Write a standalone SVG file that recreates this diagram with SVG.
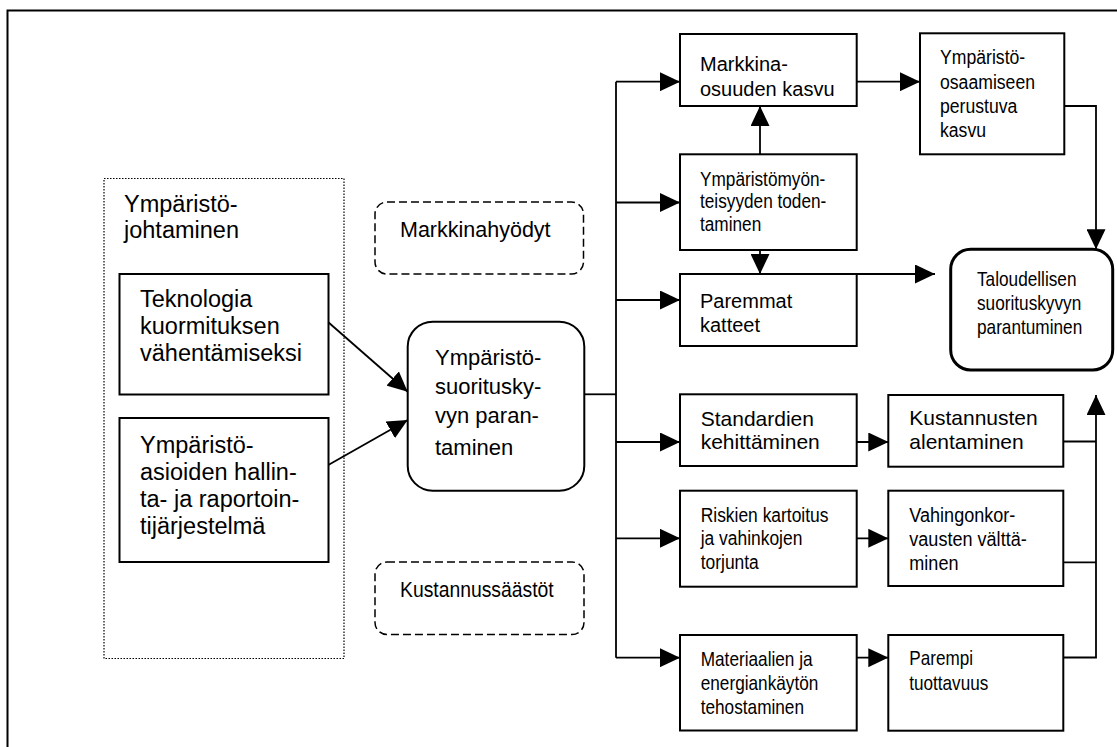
<svg xmlns="http://www.w3.org/2000/svg" width="1117" height="747" viewBox="0 0 1117 747">
<defs>
<marker id="ah" markerUnits="userSpaceOnUse" viewBox="0 0 20 19" markerWidth="20" markerHeight="19" refX="20" refY="9.5" orient="auto"><path d="M0,0 L20,9.5 L0,19 Z" fill="#000"/></marker>
</defs>
<style>
.box{fill:#fff;stroke:#000;stroke-width:2}
.dash{fill:#fff;stroke:#000;stroke-width:1.5;stroke-dasharray:8 4}
.dot{fill:none;stroke:#000;stroke-width:1.2;stroke-dasharray:1.5 1.5}
.ln{fill:none;stroke:#000;stroke-width:1.8}
.arr{marker-end:url(#ah)}
text{font-family:"Liberation Sans",Arial,sans-serif;fill:#000}
.f20{font-size:20px}
.f21{font-size:21px}
.f22{font-size:22px}
.f23{font-size:23.5px}
</style>
<rect x="7.5" y="10.5" width="1130" height="760" fill="#fff" stroke="#000" stroke-width="2"/>

<g id="johtaminen">
<rect class="dot" x="104" y="178.5" width="240" height="480"/>
<text class="f23"><tspan x="124" y="212">Ympäristö-</tspan><tspan x="124" y="238">johtaminen</tspan></text>
</g>
<g id="teknologia">
<rect class="box" x="119.5" y="274" width="209" height="120.5"/>
<text class="f23"><tspan x="140" y="307">Teknologia</tspan><tspan x="140" y="334">kuormituksen</tspan><tspan x="140" y="361">vähentämiseksi</tspan></text>
</g>
<g id="hallinta">
<rect class="box" x="119.5" y="418" width="209" height="144"/>
<text class="f23"><tspan x="140" y="453">Ympäristö-</tspan><tspan x="140" y="480">asioiden hallin-</tspan><tspan x="140" y="507">ta- ja raportoin-</tspan><tspan x="140" y="534">tijärjestelmä</tspan></text>
</g>
<g id="markkinahyodyt">
<rect class="dash" x="375" y="202" width="208.5" height="72" rx="12"/>
<text style="font-size:21.5px" x="400" y="237">Markkinahyödyt</text>
</g>
<g id="kustannussaastot">
<rect class="dash" x="375" y="562" width="209" height="72.5" rx="12"/>
<text style="font-size:21.5px" transform="translate(400,0) scale(0.9,1)" x="0" y="597">Kustannussäästöt</text>
</g>
<g id="suorituskyky">
<rect class="box" x="407.7" y="321.7" width="176.6" height="169" rx="25"/>
<text class="f22"><tspan x="435" y="365">Ympäristö-</tspan><tspan x="435" y="394">suoritusky-</tspan><tspan x="435" y="423">vyn paran-</tspan><tspan x="435" y="455">taminen</tspan></text>
</g>
<g id="markkinaosuus">
<rect class="box" x="680" y="34" width="176.7" height="72"/>
<text class="f20"><tspan x="700" y="71">Markkina-</tspan><tspan x="700" y="96">osuuden kasvu</tspan></text>
</g>
<g id="todentaminen">
<rect class="box" x="680" y="154.3" width="176.7" height="95.7"/>
<text style="font-size:20.5px" transform="translate(700,0) scale(0.84,1)"><tspan x="0" y="186">Ympäristömyön-</tspan><tspan x="0" y="208.5">teisyyden toden-</tspan><tspan x="0" y="231">taminen</tspan></text>
</g>
<g id="katteet">
<rect class="box" x="680" y="274" width="176.7" height="72"/>
<text class="f20"><tspan x="700" y="308">Paremmat</tspan><tspan x="700" y="332">katteet</tspan></text>
</g>
<g id="standardit">
<rect class="box" x="680" y="394.3" width="176.7" height="71.7"/>
<text class="f21"><tspan x="700.7" y="425.5">Standardien</tspan><tspan x="700.7" y="449">kehittäminen</tspan></text>
</g>
<g id="riskit">
<rect class="box" x="680" y="490.7" width="176.7" height="96"/>
<text class="f21" transform="translate(700.7,0) scale(0.83,1)"><tspan x="0" y="521.7">Riskien kartoitus</tspan><tspan x="0" y="545.3">ja vahinkojen</tspan><tspan x="0" y="569">torjunta</tspan></text>
</g>
<g id="materiaalit">
<rect class="box" x="680" y="635" width="176.7" height="95.5"/>
<text class="f21" transform="translate(700.7,0) scale(0.82,1)"><tspan x="0" y="666">Materiaalien ja</tspan><tspan x="0" y="690">energiankäytön</tspan><tspan x="0" y="714">tehostaminen</tspan></text>
</g>
<g id="osaamiskasvu">
<rect class="box" x="920" y="33.3" width="144.3" height="121"/>
<text class="f21" transform="translate(940,0) scale(0.84,1)"><tspan x="0" y="64.5">Ympäristö-</tspan><tspan x="0" y="88.8">osaamiseen</tspan><tspan x="0" y="113">perustuva</tspan><tspan x="0" y="137">kasvu</tspan></text>
</g>
<g id="taloudellinen">
<rect x="950.7" y="249.3" width="162" height="120.7" rx="20" fill="#fff" stroke="#000" stroke-width="3"/>
<text class="f21" transform="translate(977,0) scale(0.82,1)"><tspan x="0" y="286">Taloudellisen</tspan><tspan x="0" y="310">suorituskyvyn</tspan><tspan x="0" y="334">parantuminen</tspan></text>
</g>
<g id="kustannukset">
<rect class="box" x="888.3" y="395" width="175" height="71.7"/>
<text class="f21"><tspan x="909.3" y="425">Kustannusten</tspan><tspan x="909.3" y="449">alentaminen</tspan></text>
</g>
<g id="korvaukset">
<rect class="box" x="888.3" y="490.7" width="175" height="95.3"/>
<text class="f21" transform="translate(909.3,0) scale(0.86,1)"><tspan x="0" y="522.3">Vahingonkor-</tspan><tspan x="0" y="546">vausten välttä-</tspan><tspan x="0" y="570">minen</tspan></text>
</g>
<g id="tuottavuus">
<rect class="box" x="888.3" y="635" width="175" height="95.7"/>
<text class="f21" transform="translate(909.3,0) scale(0.815,1)"><tspan x="0" y="665">Parempi</tspan><tspan x="0" y="690">tuottavuus</tspan></text>
</g>

<g id="connectors">
<line class="ln arr" x1="328.3" y1="322.3" x2="407.7" y2="391.7"/>
<line class="ln arr" x1="328.3" y1="465" x2="407.7" y2="420"/>
<polyline class="ln" points="584.3,394.3 616,394.3"/>
<line class="ln" x1="616" y1="81.7" x2="616" y2="657.7"/>
<line class="ln arr" x1="616" y1="81.7" x2="680" y2="81.7"/>
<line class="ln arr" x1="616" y1="202.5" x2="680" y2="202.5"/>
<line class="ln arr" x1="616" y1="300" x2="680" y2="300"/>
<line class="ln arr" x1="616" y1="442" x2="680" y2="442"/>
<line class="ln arr" x1="616" y1="538.3" x2="680" y2="538.3"/>
<line class="ln arr" x1="616" y1="657.7" x2="680" y2="657.7"/>
<line class="ln arr" x1="856.7" y1="81.7" x2="920" y2="81.7"/>
<line class="ln arr" x1="760" y1="154.3" x2="760" y2="106"/>
<line class="ln arr" x1="760" y1="250" x2="760" y2="274"/>
<line class="ln arr" x1="856.7" y1="274" x2="935" y2="274"/>
<polyline class="ln arr" points="1064.3,106 1096,106 1096,249.3"/>
<line class="ln arr" x1="856.7" y1="442" x2="888.3" y2="442"/>
<line class="ln arr" x1="856.7" y1="538.3" x2="888.3" y2="538.3"/>
<line class="ln arr" x1="856.7" y1="657.7" x2="888.3" y2="657.7"/>
<line class="ln" x1="1063.3" y1="441.5" x2="1096" y2="441.5"/>
<line class="ln" x1="1063.3" y1="562.3" x2="1096" y2="562.3"/>
<polyline class="ln arr" points="1063.3,657.5 1096,657.5 1096,395"/>
</g>
</svg>
